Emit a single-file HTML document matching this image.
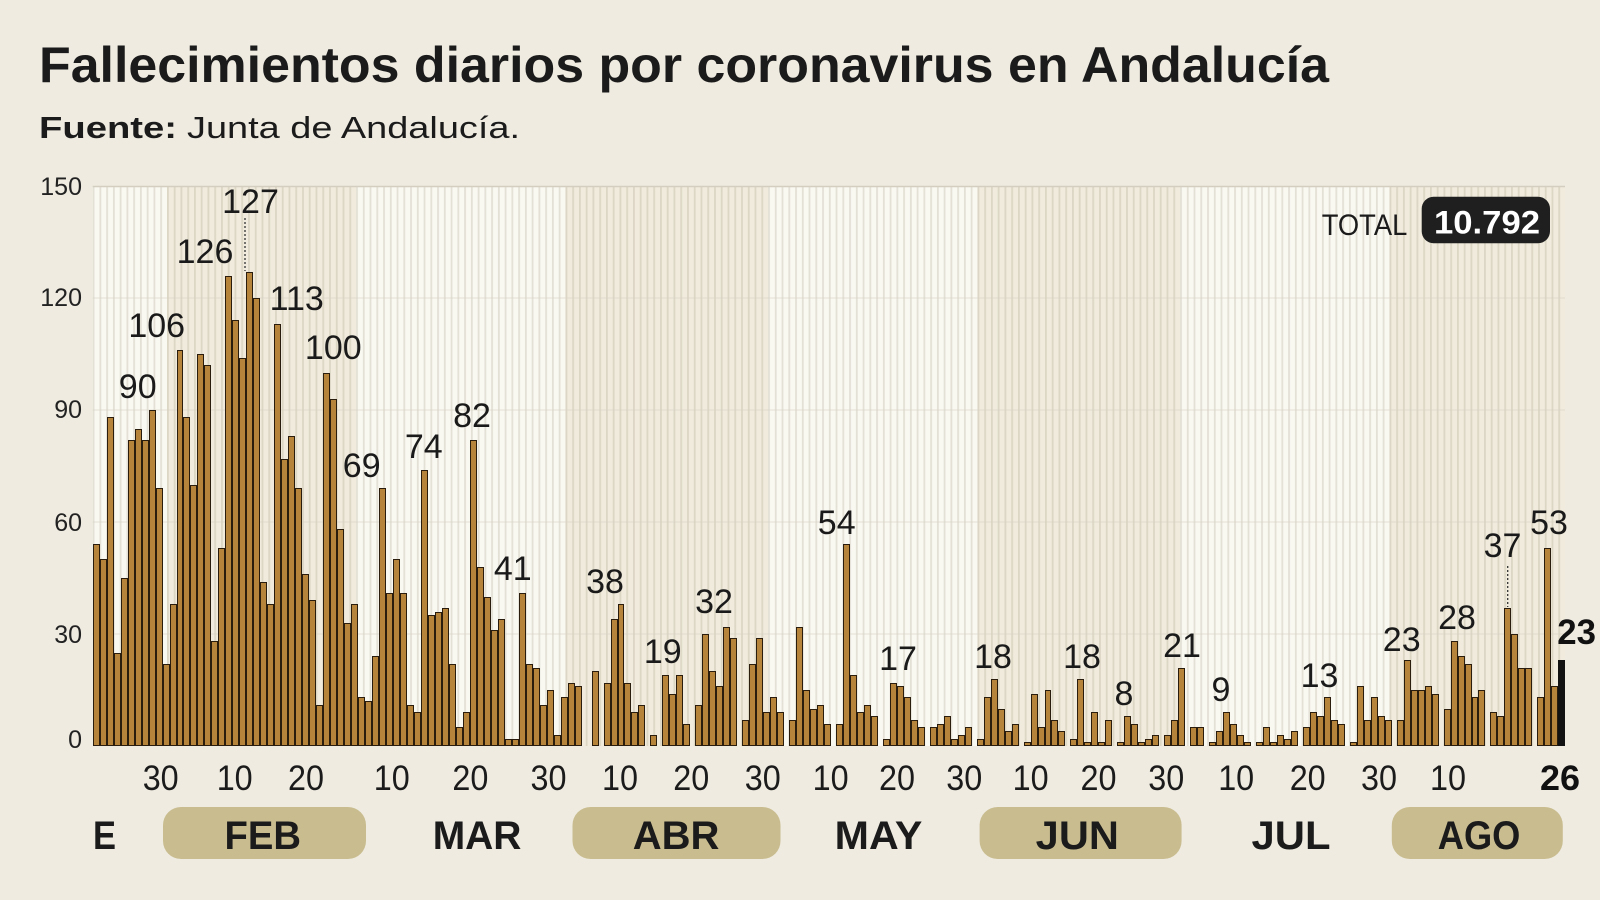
<!DOCTYPE html>
<html><head><meta charset="utf-8">
<style>
html,body{margin:0;padding:0;}
body{width:1600px;height:900px;background:#efebe1;position:relative;overflow:hidden;font-family:"Liberation Sans",sans-serif;}
svg{position:absolute;left:0;top:0;}
.bars{position:absolute;left:92.7px;top:186px;width:1472.3px;height:560px;display:flex;align-items:flex-end;}
.bars i{flex:1 1 0;min-width:0;height:calc(var(--v) * 3.7333px);background:#b7843b;border:1.2px solid #2a1d0e;box-sizing:border-box;display:block;}
.bars i.z{border:0;height:0;}
.bars i.k{background:#121212;border-color:#121212;}
</style></head><body>

<svg width="1600" height="900" viewBox="0 0 1600 900">
  <defs>
    <pattern id="st" x="92.7" y="0" width="6.754" height="20" patternUnits="userSpaceOnUse">
      <rect x="0" y="0" width="1.8" height="20" fill="#8c826a" fill-opacity="0.2"/>
    </pattern>
  </defs>
  <rect x="92.7" y="186" width="1472.3" height="560" fill="#f9f8f1"/>
  <rect x="167" y="186" width="189.1" height="560" fill="#f0ebdc"/>
  <rect x="565.5" y="186" width="202.6" height="560" fill="#f0ebdc"/>
  <rect x="977.5" y="186" width="202.6" height="560" fill="#f0ebdc"/>
  <rect x="1389.5" y="186" width="175.5" height="560" fill="#f0ebdc"/>
  <rect x="92.7" y="186" width="1472.3" height="560" fill="url(#st)"/>
  <g stroke="#d6d1c3" stroke-width="1">
    <line x1="92.7" y1="186.5" x2="1565" y2="186.5" stroke="#d3cebf" stroke-width="1.5"/>
    <line x1="92.7" y1="298" x2="1565" y2="298" stroke-opacity="0.6"/>
    <line x1="92.7" y1="410" x2="1565" y2="410" stroke-opacity="0.6"/>
    <line x1="92.7" y1="522" x2="1565" y2="522" stroke-opacity="0.6"/>
    <line x1="92.7" y1="634" x2="1565" y2="634" stroke-opacity="0.6"/>
  </g>
</svg>

<div class="bars">
<i style="--v:54"></i><i style="--v:50"></i><i style="--v:88"></i><i style="--v:25"></i><i style="--v:45"></i><i style="--v:82"></i><i style="--v:85"></i><i style="--v:82"></i><i style="--v:90"></i><i style="--v:69"></i>
<i style="--v:22"></i><i style="--v:38"></i><i style="--v:106"></i><i style="--v:88"></i><i style="--v:70"></i><i style="--v:105"></i><i style="--v:102"></i><i style="--v:28"></i><i style="--v:53"></i><i style="--v:126"></i>
<i style="--v:114"></i><i style="--v:104"></i><i style="--v:127"></i><i style="--v:120"></i><i style="--v:44"></i><i style="--v:38"></i><i style="--v:113"></i><i style="--v:77"></i><i style="--v:83"></i><i style="--v:69"></i>
<i style="--v:46"></i><i style="--v:39"></i><i style="--v:11"></i><i style="--v:100"></i><i style="--v:93"></i><i style="--v:58"></i><i style="--v:33"></i><i style="--v:38"></i><i style="--v:13"></i><i style="--v:12"></i>
<i style="--v:24"></i><i style="--v:69"></i><i style="--v:41"></i><i style="--v:50"></i><i style="--v:41"></i>
<i style="--v:11"></i><i style="--v:9"></i><i style="--v:74"></i><i style="--v:35"></i><i style="--v:36"></i><i style="--v:37"></i><i style="--v:22"></i><i style="--v:5"></i><i style="--v:9"></i><i style="--v:82"></i>
<i style="--v:48"></i><i style="--v:40"></i><i style="--v:31"></i><i style="--v:34"></i><i style="--v:2"></i><i style="--v:2"></i><i style="--v:41"></i><i style="--v:22"></i><i style="--v:21"></i><i style="--v:11"></i>
<i style="--v:15"></i><i style="--v:3"></i><i style="--v:13"></i><i style="--v:17"></i><i style="--v:16"></i><i class="z"></i><i class="z"></i><i style="--v:20"></i><i class="z"></i><i style="--v:17"></i>
<i style="--v:34"></i><i style="--v:38"></i><i style="--v:17"></i><i style="--v:9"></i><i style="--v:11"></i><i class="z"></i><i style="--v:3"></i><i class="z"></i><i style="--v:19"></i><i style="--v:14"></i>
<i style="--v:19"></i><i style="--v:6"></i><i class="z"></i><i style="--v:11"></i><i style="--v:30"></i><i style="--v:20"></i><i style="--v:16"></i><i style="--v:32"></i><i style="--v:29"></i><i class="z"></i>
<i style="--v:7"></i><i style="--v:22"></i><i style="--v:29"></i><i style="--v:9"></i><i style="--v:13"></i><i style="--v:9"></i><i class="z"></i><i style="--v:7"></i>
<i style="--v:32"></i><i style="--v:15"></i><i style="--v:10"></i><i style="--v:11"></i><i style="--v:6"></i><i class="z"></i><i style="--v:6"></i><i style="--v:54"></i><i style="--v:19"></i><i style="--v:9"></i>
<i style="--v:11"></i><i style="--v:8"></i><i class="z"></i><i style="--v:2"></i><i style="--v:17"></i><i style="--v:16"></i><i style="--v:13"></i><i style="--v:7"></i><i style="--v:5"></i><i class="z"></i>
<i style="--v:5"></i><i style="--v:6"></i><i style="--v:8"></i><i style="--v:2"></i><i style="--v:3"></i><i style="--v:5"></i><i class="z"></i><i style="--v:2"></i><i style="--v:13"></i><i style="--v:18"></i>
<i style="--v:10"></i><i style="--v:4"></i><i style="--v:6"></i><i class="z"></i><i style="--v:1"></i><i style="--v:14"></i><i style="--v:5"></i><i style="--v:15"></i><i style="--v:7"></i><i style="--v:4"></i>
<i class="z"></i><i style="--v:2"></i><i style="--v:18"></i><i style="--v:1"></i><i style="--v:9"></i><i style="--v:1"></i><i style="--v:7"></i><i class="z"></i><i style="--v:1"></i><i style="--v:8"></i>
<i style="--v:6"></i><i style="--v:1"></i><i style="--v:2"></i><i style="--v:3"></i><i class="z"></i><i style="--v:3"></i><i style="--v:7"></i>
<i style="--v:21"></i><i class="z"></i><i style="--v:5"></i><i style="--v:5"></i><i class="z"></i><i style="--v:1"></i><i style="--v:4"></i><i style="--v:9"></i><i style="--v:6"></i><i style="--v:3"></i>
<i style="--v:1"></i><i class="z"></i><i style="--v:1"></i><i style="--v:5"></i><i style="--v:1"></i><i style="--v:3"></i><i style="--v:2"></i><i style="--v:4"></i><i class="z"></i><i style="--v:5"></i>
<i style="--v:9"></i><i style="--v:8"></i><i style="--v:13"></i><i style="--v:7"></i><i style="--v:6"></i><i class="z"></i><i style="--v:1"></i><i style="--v:16"></i><i style="--v:7"></i><i style="--v:13"></i>
<i style="--v:8"></i><i style="--v:7"></i><i class="z"></i><i style="--v:7"></i><i style="--v:23"></i><i style="--v:15"></i><i style="--v:15"></i><i style="--v:16"></i><i style="--v:14"></i><i class="z"></i>
<i style="--v:10"></i><i style="--v:28"></i><i style="--v:24"></i><i style="--v:22"></i><i style="--v:13"></i><i style="--v:15"></i><i class="z"></i><i style="--v:9"></i><i style="--v:8"></i><i style="--v:37"></i>
<i style="--v:30"></i><i style="--v:21"></i><i style="--v:21"></i><i class="z"></i><i style="--v:13"></i><i style="--v:53"></i><i style="--v:16"></i><i class="k" style="--v:23"></i>
</div>

<svg width="1600" height="900" viewBox="0 0 1600 900" font-family="Liberation Sans, sans-serif">
  <text x="39" y="82" font-size="50" font-weight="bold" fill="#1b1b1b" textLength="1290" lengthAdjust="spacingAndGlyphs">Fallecimientos diarios por coronavirus en Andalucía</text>
  <text x="39" y="138" font-size="31" font-weight="bold" fill="#1b1b1b" textLength="138" lengthAdjust="spacingAndGlyphs">Fuente:</text>
  <text x="187" y="138" font-size="31" fill="#1b1b1b" textLength="333" lengthAdjust="spacingAndGlyphs">Junta de Andalucía.</text>

  <g font-size="25" fill="#222" text-anchor="end">
    <text x="82" y="195">150</text>
    <text x="82" y="306">120</text>
    <text x="82" y="418">90</text>
    <text x="82" y="531">60</text>
    <text x="82" y="643">30</text>
    <text x="82" y="748">0</text>
  </g>

  <line x1="245" y1="218" x2="245" y2="271" stroke="#333" stroke-width="1.3" stroke-dasharray="2 2"/>
  <line x1="1507.7" y1="566" x2="1507.7" y2="607" stroke="#333" stroke-width="1.3" stroke-dasharray="2 2"/>

  <g font-size="34" fill="#1a1a1a" text-anchor="middle">
    <text x="137.7" y="398">90</text>
    <text x="156.7" y="337">106</text>
    <text x="205" y="263">126</text>
    <text x="250.5" y="213">127</text>
    <text x="296.7" y="310">113</text>
    <text x="333.3" y="359">100</text>
    <text x="361.7" y="477">69</text>
    <text x="423.8" y="458">74</text>
    <text x="472" y="427">82</text>
    <text x="512.8" y="580">41</text>
    <text x="605" y="593">38</text>
    <text x="662.8" y="663">19</text>
    <text x="714" y="613">32</text>
    <text x="836.7" y="534">54</text>
    <text x="898" y="670">17</text>
    <text x="993" y="668">18</text>
    <text x="1082" y="668">18</text>
    <text x="1124" y="705">8</text>
    <text x="1182" y="657">21</text>
    <text x="1221" y="701">9</text>
    <text x="1319.5" y="687">13</text>
    <text x="1401.7" y="651">23</text>
    <text x="1457" y="629">28</text>
    <text x="1502.5" y="557">37</text>
    <text x="1549" y="534">53</text>
  </g>
  <text x="1557.3" y="644" font-size="35" font-weight="bold" fill="#111" textLength="38.7" lengthAdjust="spacingAndGlyphs">23</text>

  <text x="1321.7" y="235" font-size="30" fill="#1b1b1b" textLength="85.6" lengthAdjust="spacingAndGlyphs">TOTAL</text>
  <rect x="1421.7" y="196.7" width="128.3" height="46.6" rx="12" ry="12" fill="#1f1f1f"/>
  <text x="1434" y="233.3" font-size="32" font-weight="bold" fill="#ffffff" textLength="106" lengthAdjust="spacingAndGlyphs">10.792</text>

  <g font-size="35" fill="#1b1b1b">
    <text x="142.7" y="790" textLength="36" lengthAdjust="spacingAndGlyphs">30</text>
    <text x="216.7" y="790" textLength="36" lengthAdjust="spacingAndGlyphs">10</text>
    <text x="288" y="790" textLength="36" lengthAdjust="spacingAndGlyphs">20</text>
    <text x="373.8" y="790" textLength="36" lengthAdjust="spacingAndGlyphs">10</text>
    <text x="452.4" y="790" textLength="36" lengthAdjust="spacingAndGlyphs">20</text>
    <text x="530.5" y="790" textLength="36" lengthAdjust="spacingAndGlyphs">30</text>
    <text x="602" y="790" textLength="36" lengthAdjust="spacingAndGlyphs">10</text>
    <text x="673.3" y="790" textLength="36" lengthAdjust="spacingAndGlyphs">20</text>
    <text x="744.8" y="790" textLength="36" lengthAdjust="spacingAndGlyphs">30</text>
    <text x="812.6" y="790" textLength="36" lengthAdjust="spacingAndGlyphs">10</text>
    <text x="879" y="790" textLength="36" lengthAdjust="spacingAndGlyphs">20</text>
    <text x="946.3" y="790" textLength="36" lengthAdjust="spacingAndGlyphs">30</text>
    <text x="1012.6" y="790" textLength="36" lengthAdjust="spacingAndGlyphs">10</text>
    <text x="1080.5" y="790" textLength="36" lengthAdjust="spacingAndGlyphs">20</text>
    <text x="1148.3" y="790" textLength="36" lengthAdjust="spacingAndGlyphs">30</text>
    <text x="1218.2" y="790" textLength="36" lengthAdjust="spacingAndGlyphs">10</text>
    <text x="1289.7" y="790" textLength="36" lengthAdjust="spacingAndGlyphs">20</text>
    <text x="1361" y="790" textLength="36" lengthAdjust="spacingAndGlyphs">30</text>
    <text x="1430" y="790" textLength="36" lengthAdjust="spacingAndGlyphs">10</text>
  </g>
  <text x="1540" y="790" font-size="35" font-weight="bold" fill="#111" textLength="40" lengthAdjust="spacingAndGlyphs">26</text>

  <g fill="#c9bd90">
    <rect x="163" y="807" width="203" height="52" rx="18" ry="18"/>
    <rect x="572.5" y="807" width="208" height="52" rx="18" ry="18"/>
    <rect x="979.6" y="807" width="202" height="52" rx="18" ry="18"/>
    <rect x="1391.8" y="807" width="171" height="52" rx="18" ry="18"/>
  </g>
  <g font-size="40" font-weight="bold" fill="#1b1b1b">
    <text x="93" y="849" textLength="23" lengthAdjust="spacingAndGlyphs">E</text>
    <text x="224.5" y="849" textLength="76.5" lengthAdjust="spacingAndGlyphs">FEB</text>
    <text x="432.7" y="849" textLength="88.7" lengthAdjust="spacingAndGlyphs">MAR</text>
    <text x="632.7" y="849" textLength="86.7" lengthAdjust="spacingAndGlyphs">ABR</text>
    <text x="834.7" y="849" textLength="87.7" lengthAdjust="spacingAndGlyphs">MAY</text>
    <text x="1035.7" y="849" textLength="83.2" lengthAdjust="spacingAndGlyphs">JUN</text>
    <text x="1251.5" y="849" textLength="79" lengthAdjust="spacingAndGlyphs">JUL</text>
    <text x="1437.8" y="849" textLength="82.6" lengthAdjust="spacingAndGlyphs">AGO</text>
  </g>
</svg>
</body></html>
